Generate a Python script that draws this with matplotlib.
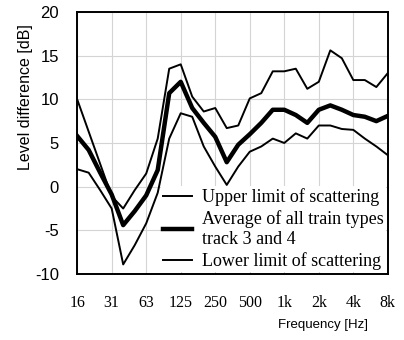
import numpy as np
import matplotlib
matplotlib.use('Agg')
import matplotlib.pyplot as plt

plt.rcParams['axes.unicode_minus'] = False

### data (1/3-octave bands, 16 Hz .. 8 kHz)

bands = ['16', '20', '25', '31', '40', '50', '63', '80', '100', '125',
         '160', '200', '250', '315', '400', '500', '630', '800', '1k', '1.25k',
         '1.6k', '2k', '2.5k', '3.15k', '4k', '5k', '6.3k', '8k']
tick_labels = ['16', '31', '63', '125', '250', '500', '1k', '2k', '4k', '8k']

upper = [10.0, 6.3, 2.6, -1.1, -2.5, -0.4, 1.5, 5.5, 13.5, 14.0,
         10.3, 8.6, 9.0, 6.7, 7.0, 10.1, 10.7, 13.2, 13.2, 13.5,
         11.2, 12.0, 15.6, 14.7, 12.2, 12.2, 11.4, 13.0]
average = [5.8, 4.2, 1.6, -0.9, -4.4, -2.8, -1.0, 1.9, 10.7, 12.0,
           9.0, 7.3, 5.7, 2.8, 4.8, 6.0, 7.3, 8.8, 8.8, 8.2,
           7.3, 8.8, 9.3, 8.8, 8.2, 8.0, 7.5, 8.1]
lower = [2.0, 1.6, -0.4, -2.5, -8.9, -6.7, -4.2, -0.7, 5.5, 8.4,
         8.0, 4.6, 2.3, 0.2, 2.3, 4.0, 4.6, 5.5, 5.0, 6.1,
         5.5, 7.0, 7.0, 6.6, 6.5, 5.5, 4.6, 3.6]

x = np.arange(len(bands))

fig = plt.figure(figsize=(4.04, 3.40), dpi=100)
ax = fig.add_axes([0.191, 0.194, 0.769, 0.771])

ax.plot(x, upper, color='black', lw=1.4, label='Upper limit of scattering')
ax.plot(x, average, color='black', lw=3.2,
        label='Average of all train types\ntrack 3 and 4')
ax.plot(x, lower, color='black', lw=1.4, label='Lower limit of scattering')

ax.set_xlim(0, len(bands) - 1)
ax.set_ylim(-10, 20)
ax.set_yticks(np.arange(-10, 21, 5))
ax.set_xticks(x[::3])
ax.set_xticklabels(tick_labels, family='Liberation Serif', fontsize=11.5)
for lab in ax.get_yticklabels():
    lab.set_family('Liberation Sans')
    lab.set_fontsize(12)
ax.tick_params(axis='both', length=0)
ax.tick_params(axis='x', pad=15)
ax.tick_params(axis='y', pad=13)

ax.grid(True, color='#d4d4d4', lw=0.8)
ax.set_axisbelow(True)
for sp in ax.spines.values():
    sp.set_linewidth(1.4)

ax.set_ylabel('Level difference [dB]', family='Liberation Sans', fontsize=11.5,
              va='center')
ax.yaxis.set_label_coords(-0.167, 0.676)
ax.set_xlabel('Frequency [Hz]', family='Liberation Sans', fontsize=9.5,
              ha='right', va='center')
ax.xaxis.set_label_coords(0.936, -0.195)

leg = ax.legend(loc='lower right', bbox_to_anchor=(1.0, 0.0), borderaxespad=0.1,
                frameon=True, fancybox=False, edgecolor='none', framealpha=1.0,
                prop={'family': 'Liberation Serif', 'size': 13},
                handlelength=1.6, handletextpad=0.6, labelspacing=0.25,
                borderpad=0.1)

fig.savefig('out.png', dpi=100)
